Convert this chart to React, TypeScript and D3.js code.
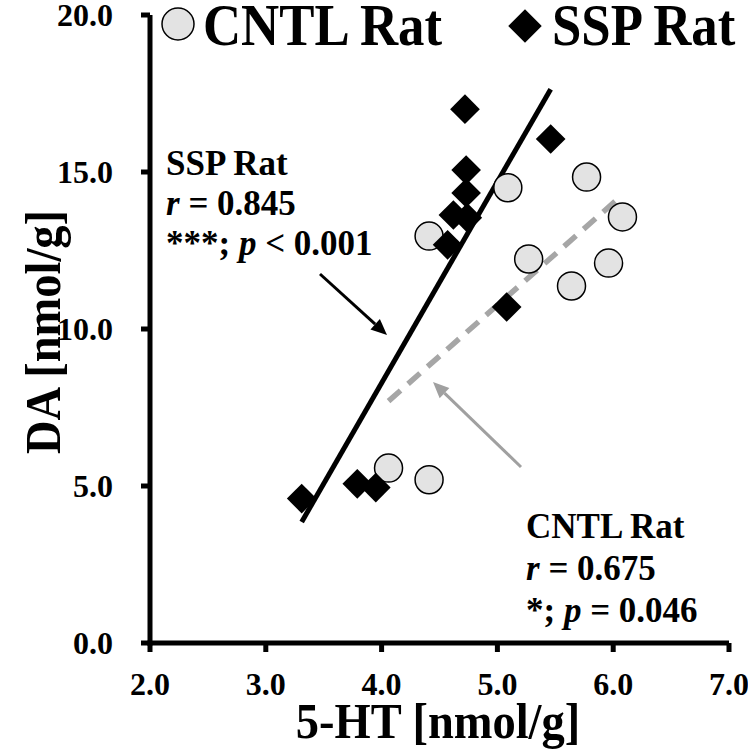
import React from "react";
import * as d3 from "d3";

const cntlX = [4.06, 4.41, 4.41, 5.09, 5.77, 6.08, 5.27, 5.96, 5.64];
const cntlY = [5.57, 5.2, 12.96, 14.5, 14.84, 13.57, 12.23, 12.1, 11.37];
const sspX = [4.72, 5.46, 4.73, 4.73, 4.62, 4.74, 4.57, 5.08, 3.31, 3.79, 3.95];
const sspY = [17.0, 16.05, 15.06, 14.33, 13.63, 13.54, 12.68, 10.7, 4.6, 5.07, 4.95];
const xTicks = [2, 3, 4, 5, 6, 7];
const yTicks = [0, 5, 10, 15, 20];
const seriesNames = ["CNTL Rat", "SSP Rat"];
const sspStats = ["SSP Rat", "0.845", "0.001"];
const cntlStats = ["CNTL Rat", "0.675", "0.046"];

const FONT = "'Liberation Serif', 'Times New Roman', serif";

function regression(xs: number[], ys: number[]) {
  const mx = d3.mean(xs)!;
  const my = d3.mean(ys)!;
  let sxy = 0, sxx = 0;
  xs.forEach((x, i) => { sxy += (x - mx) * (ys[i] - my); sxx += (x - mx) ** 2; });
  const b = sxy / sxx;
  const a = my - b * mx;
  const [x0, x1] = d3.extent(xs) as [number, number];
  return [[x0, a + b * x0], [x1, a + b * x1]] as [number, number][];
}

function T({ x, y, size, anchor = "start", children, fill = "#000", rotate = 0, sx = 1 }: any) {
  return (
    <text
      transform={`translate(${x},${y}) rotate(${rotate}) scale(${sx},1)`}
      fontFamily={FONT}
      fontWeight="bold"
      fontSize={size}
      textAnchor={anchor}
      fill={fill}
    >
      {children}
    </text>
  );
}

function Arrow({ x1, y1, x2, y2, color, width }: any) {
  const ang = Math.atan2(y2 - y1, x2 - x1);
  const L = 16, W = 7;
  const bx = x2 - L * Math.cos(ang), by = y2 - L * Math.sin(ang);
  const px = -Math.sin(ang) * W, py = Math.cos(ang) * W;
  return (
    <g>
      <line x1={x1} y1={y1} x2={bx} y2={by} stroke={color} strokeWidth={width} />
      <polygon points={`${x2},${y2} ${bx + px},${by + py} ${bx - px},${by - py}`} fill={color} />
    </g>
  );
}

export default function App() {
  const x = d3.scaleLinear().domain([2, 7]).range([150, 729]);
  const y = d3.scaleLinear().domain([0, 20]).range([643, 15]);
  const diamond = d3.symbol().type(d3.symbolSquare).size(440)()!;
  const line = d3.line<[number, number]>().x((d) => x(d[0])).y((d) => y(d[1]));
  const sspLine = regression(sspX, sspY);
  const cntlLine = regression(cntlX, cntlY);
  const x0 = x(2), y0 = y(0);

  return (
    <svg width={748} height={750} style={{ position: "absolute", left: 0, top: 0, background: "#fff" }}>
      {/* axes */}
      <line x1={x0} y1={y(20)} x2={x0} y2={y0 + 2.5} stroke="#000" strokeWidth={5} />
      <line x1={x0 - 2.5} y1={y0} x2={x(7)} y2={y0} stroke="#000" strokeWidth={5} />
      {yTicks.map((t) => (
        <g key={"y" + t}>
          <line x1={x0 - 9} x2={x0} y1={y(t)} y2={y(t)} stroke="#000" strokeWidth={5} />
          <T x={113} y={y(t) + 11} size={32} anchor="end">{t.toFixed(1)}</T>
        </g>
      ))}
      {xTicks.map((t) => (
        <g key={"x" + t}>
          <line x1={x(t)} x2={x(t)} y1={y0} y2={y0 + 9} stroke="#000" strokeWidth={5} />
          <T x={x(t)} y={695} size={32} anchor="middle">{t.toFixed(1)}</T>
        </g>
      ))}
      <T x={438} y={738} size={50} anchor="middle" sx={0.93}>5-HT [nmol/g]</T>
      <T x={60} y={332} size={50} anchor="middle" rotate={-90} sx={0.93}>DA [nmol/g]</T>

      {/* regression lines */}
      <path d={line(cntlLine)!} stroke="#a6a6a6" strokeWidth={5.5} strokeDasharray="16 10" fill="none" />
      <path d={line(sspLine)!} stroke="#000" strokeWidth={5} fill="none" />

      {/* points */}
      {cntlX.map((v, i) => (
        <circle key={"c" + i} cx={x(v)} cy={y(cntlY[i])} r={14} fill="#e3e3e3" stroke="#000" strokeWidth={1.5} />
      ))}
      {sspX.map((v, i) => (
        <path key={"s" + i} d={diamond} transform={`translate(${x(v)},${y(sspY[i])}) rotate(45)`} fill="#000" />
      ))}

      {/* legend */}
      <circle cx={178} cy={24} r={16} fill="#e3e3e3" stroke="#000" strokeWidth={1.5} />
      <T x={203} y={45} size={60} sx={0.88}>{seriesNames[0]}</T>
      <path d={d3.symbol().type(d3.symbolSquare).size(560)()!} transform="translate(525,26) rotate(45)" fill="#000" />
      <T x={552} y={45} size={60} sx={0.88}>{seriesNames[1]}</T>

      {/* annotations */}
      <T x={166} y={175} size={35}>{sspStats[0]}</T>
      <T x={166} y={215} size={35}>
        <tspan fontStyle="italic">r</tspan> = {sspStats[1]}
      </T>
      <T x={166} y={255} size={35}>
        ***; <tspan fontStyle="italic">p</tspan> {"<"} {sspStats[2]}
      </T>
      <Arrow x1={320} y1={274} x2={387} y2={335} color="#000" width={3} />

      <T x={526} y={538} size={35}>{cntlStats[0]}</T>
      <T x={526} y={580} size={35}>
        <tspan fontStyle="italic">r</tspan> = {cntlStats[1]}
      </T>
      <T x={526} y={622} size={35}>
        *; <tspan fontStyle="italic">p</tspan> = {cntlStats[2]}
      </T>
      <Arrow x1={521} y1={467} x2={433} y2={382} color="#a0a0a0" width={3} />
    </svg>
  );
}
